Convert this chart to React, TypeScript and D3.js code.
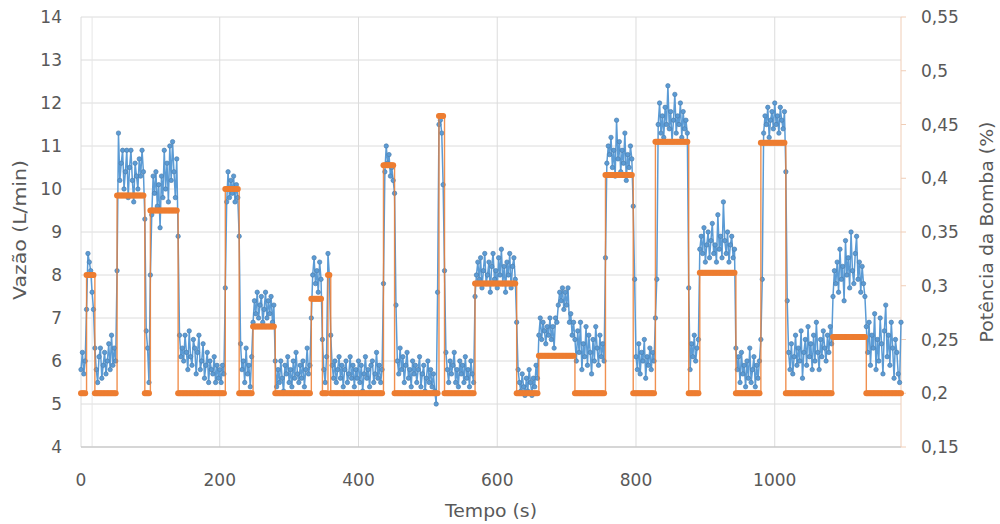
import React from "react";
import * as d3 from "d3";

// ---- axis ticks ----
const xTicks = [0, 200, 400, 600, 800, 1000];
const yTicks = [4, 5, 6, 7, 8, 9, 10, 11, 12, 13, 14];
const y2Ticks = [0.15, 0.2, 0.25, 0.3, 0.35, 0.4, 0.45, 0.5, 0.55];
const y2Labels = ["0,15", "0,2", "0,25", "0,3", "0,35", "0,4", "0,45", "0,5", "0,55"];
const extraGridX = [16];

// ---- sampling ----
const sampleStep = 2; // seconds between samples

// ---- pump power (run-length: level, number of samples) ----
const powerLevels = [
  0.2, 0.31, 0.2, 0.384, 0.2, 0.37, 0.2, 0.39, 0.2, 0.262, 0.2, 0.288, 0.2, 0.31, 0.2, 0.412, 0.2,
  0.458, 0.2, 0.302, 0.2, 0.235, 0.2, 0.403, 0.2, 0.434, 0.2, 0.312, 0.2, 0.433, 0.2, 0.2524, 0.2,
];
const powerRuns = [
  4, 6, 16, 20, 4, 20, 34, 10, 10, 16, 26, 8, 4, 2, 38, 8, 32, 4, 22, 30, 16, 26, 22, 20, 16, 24, 8,
  26, 18, 18, 34, 24, 26,
];

// ---- flow (L/min), one value per sample ----
const flow = [
  5.8, 6.2, 5.7, 6.0,
  7.2, 8.5, 8.3, 8.1, 7.6, 7.2,
  6.3, 5.8, 5.5, 6.1, 6.3, 5.6, 5.9, 6.2, 5.7, 6.0, 6.4, 5.8, 6.6, 5.9, 6.3, 6.0,
  8.1, 11.3, 10.2, 10.6, 10.9, 10.0, 10.4, 10.9, 9.8, 10.5, 10.9, 10.2, 9.7, 10.6, 10.3, 10.0, 10.7, 10.3, 10.9, 10.4,
  9.3, 6.7, 6.3, 5.5,
  8.0, 9.4, 10.3, 9.9, 10.4, 9.6, 10.1, 9.1, 10.3, 9.8, 10.9, 10.0, 10.6, 9.7, 11.0, 10.2, 11.1, 10.4, 9.8, 10.7,
  8.9, 6.6, 6.1, 6.3, 6.0, 6.6, 6.2, 5.8, 6.7, 6.1, 5.9, 6.5, 6.3, 5.7, 6.2, 6.6, 5.8, 6.0, 6.4, 5.6,
  5.9, 6.2, 5.5, 6.0, 5.8, 5.7, 6.1, 5.5, 5.9, 5.6, 5.8, 5.5, 5.9, 5.7,
  7.7, 9.7, 10.4, 9.8, 10.2, 9.9, 10.3, 9.7, 10.1, 9.8,
  8.9, 6.4, 5.8, 6.0, 5.5, 6.3, 5.7, 5.9, 5.4, 6.1,
  6.9, 7.4, 7.1, 7.6, 7.0, 7.3, 7.5, 6.9, 7.2, 7.6, 7.0, 7.4, 7.1, 7.5, 6.9, 7.3,
  6.0, 5.4, 5.8, 5.5, 6.0, 5.6, 5.3, 5.9, 5.7, 6.1, 5.5, 5.8, 5.4, 6.0, 5.6, 6.2, 5.7, 5.5, 5.9, 5.6,
  6.0, 5.4, 5.8, 6.3, 5.7, 5.9,
  7.0, 8.0, 8.4, 7.8, 8.1, 7.6, 8.3, 7.9,
  6.5, 5.8, 5.5, 6.1,
  8.5, 8.0,
  6.6, 5.9, 5.6, 6.0, 5.5, 5.8, 6.1, 5.6, 5.9, 5.4, 5.8, 6.0, 5.5, 5.7, 6.1, 5.6, 5.9, 5.4, 5.8, 5.6,
  6.0, 5.5, 5.9, 5.3, 5.7, 6.1, 5.6, 5.8, 5.4, 5.9, 6.0, 5.5, 5.7, 6.2, 5.6, 5.9, 5.5, 5.8,
  7.8, 10.4, 11.0, 10.6, 10.8, 10.3, 10.5, 10.2,
  9.9, 7.3, 6.0, 5.7, 6.3, 5.8, 6.1, 5.5, 5.9, 6.2, 5.6, 5.8, 5.4, 6.0, 5.7, 5.9, 5.5, 5.8, 6.1, 5.4,
  5.7, 5.9, 5.3, 5.6, 6.0, 5.5, 5.8, 5.4, 5.7, 5.3, 5.0, 7.6,
  11.5, 11.6, 11.3, 10.1,
  8.1, 6.2, 5.8, 5.5, 6.0, 5.7, 5.9, 6.2, 5.5, 5.8, 5.4, 6.0, 5.7, 5.9, 5.5, 6.1, 5.6, 5.8, 5.4, 6.0,
  5.7, 5.5,
  7.5, 8.0, 8.3, 7.9, 8.4, 7.7, 8.1, 8.5, 7.8, 8.0, 8.3, 7.6, 8.2, 8.5, 7.9, 8.1, 7.7, 8.4, 8.0, 8.6,
  7.8, 8.2, 7.6, 8.3, 8.0, 8.5, 7.7, 8.2, 8.4, 7.9,
  6.9, 5.8, 5.5, 5.3, 5.7, 5.4, 5.2, 5.6, 5.3, 5.8, 5.5, 5.2, 5.6, 5.4, 5.9, 5.6,
  6.6, 7.0, 6.5, 6.9, 6.7, 6.4, 6.8, 6.6, 7.0, 6.5, 6.8, 6.3, 7.0, 6.9, 7.3, 7.6, 7.4, 7.7, 7.2, 7.6,
  7.3, 7.7, 6.9, 7.1, 6.6, 6.9,
  6.5, 6.0, 6.7, 6.2, 6.9, 5.8, 6.4, 6.1, 6.8, 5.9, 6.6, 6.2, 5.7, 6.5, 6.0, 6.8, 6.3, 5.9, 6.6, 6.1,
  6.4, 6.0,
  8.4, 10.6, 11.0, 10.8, 11.2, 10.5, 10.9, 10.3, 11.6, 10.7, 11.1, 10.4, 10.9, 10.6, 11.3, 10.2, 10.8, 10.5, 11.0, 10.7,
  9.6, 7.9, 6.1, 5.8, 6.4, 5.7, 6.2, 6.0, 6.5, 5.6, 6.1, 5.9, 6.3, 5.8, 6.2, 6.0,
  7.0, 7.9, 11.5, 12.0, 11.3, 11.7, 11.2, 11.9, 11.5, 12.4, 11.4, 11.8, 11.1, 11.6, 12.2, 11.3, 11.7, 11.5, 12.0, 11.2,
  11.8, 11.4, 11.6, 11.3,
  7.7, 5.8, 6.4, 6.1, 6.6, 6.0, 6.3, 6.5,
  8.6, 8.9, 8.5, 9.1, 8.3, 8.7, 9.0, 8.4, 8.8, 9.2, 8.5, 8.7, 8.3, 9.4, 8.6, 8.9, 8.4, 9.7, 8.8, 8.5,
  9.0, 8.3, 8.7, 8.9, 8.4, 8.6,
  6.3, 5.8, 6.1, 5.5, 6.2, 5.7, 5.9, 5.4, 6.0, 5.6, 6.3, 5.5, 5.8, 6.1, 5.4, 5.9, 5.6, 6.0,
  6.5, 7.9, 11.3, 11.7, 11.5, 11.9, 11.2, 11.6, 11.8, 11.4, 12.0, 11.5, 11.7, 11.3, 11.9, 11.6, 11.4, 11.8,
  10.4, 7.4, 6.2, 5.8, 6.4, 5.7, 6.1, 6.6, 5.9, 6.3, 6.0, 6.7, 5.6, 6.2, 6.5, 5.9, 6.8, 6.1, 6.4, 5.8,
  6.6, 6.0, 6.9, 6.2, 5.8, 6.5, 6.1, 6.7, 6.3, 6.0, 6.6, 6.2, 6.8, 6.4,
  7.5, 8.1, 7.8, 8.3, 7.6, 8.6, 7.9, 8.2, 7.4, 8.8, 8.0, 8.4, 7.7, 9.0, 8.1, 7.8, 8.5, 8.9, 7.9, 8.3,
  7.6, 8.2, 7.8, 7.5,
  6.8, 6.2, 6.9, 5.9, 6.6, 6.3, 7.1, 5.8, 6.5, 6.0, 7.0, 6.4, 5.7, 6.7, 7.3, 6.1, 6.6, 5.9, 6.9, 6.3,
  5.6, 6.5, 6.2, 5.7, 5.5, 6.9,
];

const BLUE = "#5B9BD5";
const ORANGE = "#ED7D31";
const TEXT = "#595959";
const FONT = "'DejaVu Sans', sans-serif";

export default function App() {
  const W = 1000;
  const H = 524;
  const left = 81;
  const right = 901;
  const top = 17;
  const bottom = 447;

  const x = d3.scaleLinear().domain([0, 1182]).range([left, right]);
  const y = d3.scaleLinear().domain([4, 14]).range([bottom, top]);
  const y2 = d3.scaleLinear().domain([0.15, 0.55]).range([bottom, top]);

  const power: number[] = [];
  powerLevels.forEach((lv, i) => {
    for (let k = 0; k < powerRuns[i]; k++) power.push(lv);
  });

  const flowPts = flow.map((v, i) => [i * sampleStep, v] as [number, number]);
  const powerPts = power.map((v, i) => [i * sampleStep, v] as [number, number]);

  const flowLine = d3
    .line<[number, number]>()
    .x((d) => x(d[0]))
    .y((d) => y(d[1]));
  const powerLine = d3
    .line<[number, number]>()
    .x((d) => x(d[0]))
    .y((d) => y2(d[1]))
    .curve(d3.curveStepAfter);

  return (
    <svg
      width={W}
      height={H}
      style={{ position: "absolute", left: 0, top: 0, background: "#fff" }}
      fontFamily={FONT}
    >
      <rect x={0} y={0} width={W} height={H} fill="#fff" />
      {yTicks.map((t) => (
        <line key={"hg" + t} x1={left} x2={right} y1={y(t)} y2={y(t)} stroke="#dcdcdc" strokeWidth={1} />
      ))}
      {xTicks.map((t) => (
        <line key={"vg" + t} x1={x(t)} x2={x(t)} y1={top} y2={bottom} stroke="#dcdcdc" strokeWidth={1} />
      ))}
      {extraGridX.map((t) => (
        <line key={"eg" + t} x1={x(t)} x2={x(t)} y1={top} y2={bottom} stroke="#e6e6e6" strokeWidth={1} />
      ))}
      <line x1={left} x2={right} y1={bottom} y2={bottom} stroke="#bfbfbf" strokeWidth={1} />
      <line x1={right} x2={right} y1={top} y2={bottom} stroke="#f0cdb6" strokeWidth={1} />
      {y2Ticks.map((t) => (
        <line key={"rt" + t} x1={right} x2={right + 5} y1={y2(t)} y2={y2(t)} stroke="#f0cdb6" strokeWidth={1} />
      ))}

      {/* flow series */}
      <path d={flowLine(flowPts) || ""} fill="none" stroke={BLUE} strokeWidth={1.5} />
      {flowPts.map((d, i) => (
        <circle key={"f" + i} cx={x(d[0])} cy={y(d[1])} r={2.2} fill={BLUE} stroke="#4f7fae" strokeWidth={0.7} />
      ))}

      {/* power series */}
      <path d={powerLine(powerPts) || ""} fill="none" stroke={ORANGE} strokeWidth={1.4} strokeOpacity={0.85} />
      {powerPts.map((d, i) => (
        <circle key={"p" + i} cx={x(d[0])} cy={y2(d[1])} r={3} fill={ORANGE} />
      ))}

      {yTicks.map((t) => (
        <text key={"yl" + t} x={62} y={y(t) + 6} textAnchor="end" fontSize={17} fill={TEXT}>
          {t}
        </text>
      ))}
      {y2Ticks.map((t, i) => (
        <text key={"y2l" + t} x={921} y={y2(t) + 6} textAnchor="start" fontSize={17} fill={TEXT}>
          {y2Labels[i]}
        </text>
      ))}
      {xTicks.map((t) => (
        <text key={"xl" + t} x={x(t)} y={486} textAnchor="middle" fontSize={17} fill={TEXT}>
          {t}
        </text>
      ))}

      <text x={491} y={517} textAnchor="middle" fontSize={18} fill={TEXT} textLength={92} lengthAdjust="spacingAndGlyphs">
        Tempo (s)
      </text>
      <text
        transform="translate(26,230) rotate(-90)"
        textAnchor="middle"
        fontSize={18}
        fill={TEXT}
        textLength={140}
        lengthAdjust="spacingAndGlyphs"
      >
        Vazão (L/min)
      </text>
      <text
        transform="translate(993,232) rotate(-90)"
        textAnchor="middle"
        fontSize={18}
        fill={TEXT}
        textLength={221}
        lengthAdjust="spacingAndGlyphs"
      >
        Potência da Bomba (%)
      </text>
    </svg>
  );
}
